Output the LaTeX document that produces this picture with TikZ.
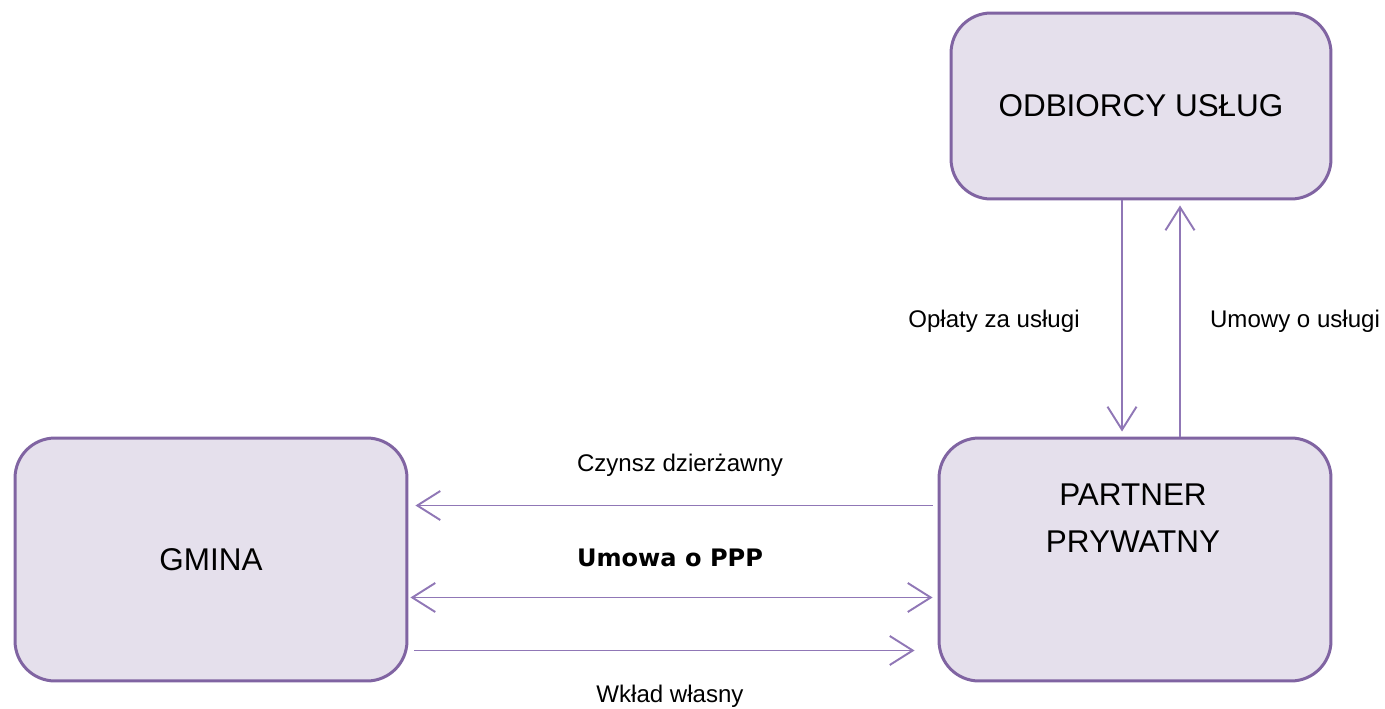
\documentclass[tikz,border=0pt]{standalone}
\usepackage{fontspec}
\setmainfont{Liberation Sans}
\newfontfamily\pppfont{DejaVu Sans}
\usetikzlibrary{positioning,arrows.meta}
\definecolor{boxLine}{HTML}{8064A2}
\definecolor{boxFill}{HTML}{E5E0EC}
\definecolor{flowLine}{HTML}{9077B6}
\tikzset{
  box/.style={rectangle, rounded corners=0.8cm, fill=boxFill, draw=boxLine, line width=1.7pt,
    minimum width=7.84cm, minimum height=4.86cm, font=\fontsize{17.9}{26.6}\selectfont},
  boxText/.style={align=center, font=\fontsize{17.9}{26.6}\selectfont},
  flowLabel/.style={anchor=base, font=\fontsize{13.7}{16}\selectfont},
  flow/.style={draw=flowLine, line width=1.1pt},
  flowArrow/.style={flow, -{Straight Barb[length=0.46cm, width=0.58cm]}},
  bothArrow/.style={flow, {Straight Barb[length=0.46cm, width=0.58cm]}-{Straight Barb[length=0.46cm, width=0.58cm]}}
}
\begin{document}
\begin{tikzpicture}[x=0.02cm, y=-0.02cm]
  \useasboundingbox (0,0) rectangle (1385,709);
  % parties
  \node [box, minimum width=7.6cm, minimum height=3.72cm] (odb) at (1141,106) {ODBIORCY USŁUG};
  \node [box] (gmina) at (211,559.5) {GMINA};
  \node [box] (partner) at (1135,559.5) {};
  \node [boxText] (partnerText) at (1133,518) {PARTNER\\PRYWATNY};
  % flows between gmina and partner
  \draw [flowArrow, shorten <=0.1cm, shorten >=0.14cm] ([yshift=1.08cm]partner.west) -- ([yshift=1.08cm]gmina.east);
  \draw [bothArrow, shorten <=0.04cm, shorten >=0.1cm] ([yshift=-0.76cm]gmina.east) -- ([yshift=-0.76cm]partner.west);
  \draw [flowArrow, shorten <=0.12cm, shorten >=0.46cm] ([yshift=-1.82cm]gmina.east) -- ([yshift=-1.82cm]partner.west);
  % flows between partner and odbiorcy
  \coordinate (feesTop) at ([xshift=-0.38cm]odb.south);
  \coordinate (dealBottom) at ([xshift=0.9cm]partner.north);
  \draw [flowArrow, shorten >=0.1cm] (feesTop) -- (feesTop |- partner.north);
  \draw [flowArrow, shorten >=0.1cm] (dealBottom) -- (dealBottom |- odb.south);
  % labels
  \node [flowLabel] (rent) at (680,471) {Czynsz dzierżawny};
  \node [flowLabel, font=\pppfont\bfseries\fontsize{13.7}{16}\selectfont] (ppp) at (670,566) {Umowa o PPP};
  \node [flowLabel] (own) at (670,702) {Wkład własny};
  \node [flowLabel] (fees) at (994,327) {Opłaty za usługi};
  \node [flowLabel] (deals) at (1295,327) {Umowy o usługi};
\end{tikzpicture}
\end{document}
